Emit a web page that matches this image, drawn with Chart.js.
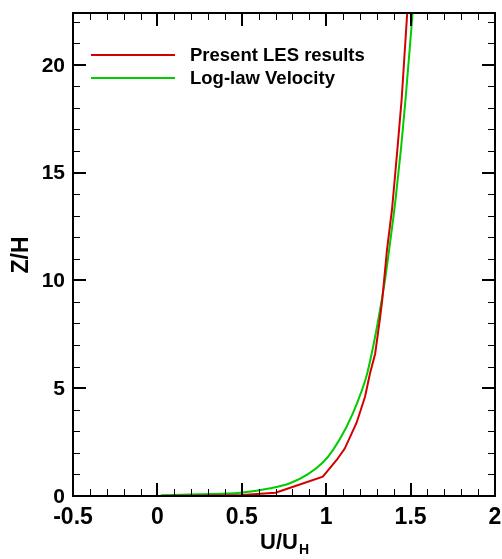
<!DOCTYPE html>
<html>
<head>
<meta charset="utf-8">
<script src="https://cdn.jsdelivr.net/npm/chart.js@4"></script>
<style>
  body { margin: 0; background: #fff; }
  #wrap { width: 502px; height: 559px; }
</style>
</head>
<body>
<div id="wrap"><canvas id="profileChart" width="502" height="559"></canvas></div>
<script>
// velocity profile data: U/UH against Z/H
const lesU = [0, 0.3, 0.5, 0.7, 0.8, 0.98, 1.062, 1.11, 1.18, 1.23, 1.26, 1.29, 1.318, 1.332, 1.36, 1.39, 1.422, 1.447, 1.48];
const lesZ = [0, 0.02, 0.05, 0.15, 0.42, 0.9, 1.67, 2.2, 3.4, 4.6, 5.7, 6.6, 8.2, 9.1, 11.4, 13.3, 16.1, 18.4, 22.4];

const logU = [0.02, 0.25, 0.49, 0.67, 0.785, 0.89, 0.98, 1.04, 1.12, 1.19, 1.24, 1.28, 1.318, 1.348, 1.381, 1.41, 1.443, 1.47, 1.512];
const logZ = [0.03, 0.08, 0.15, 0.36, 0.59, 1.0, 1.55, 2.13, 3.2, 4.45, 5.6, 7.0, 8.6, 10, 11.9, 13.7, 16.1, 18.4, 22.4];

const seriesNames = ['Present LES results', 'Log-law Velocity'];
const seriesColors = ['#d40000', '#00cc00'];

const xTicks = [-0.5, 0, 0.5, 1, 1.5, 2];
const yTicks = [0, 5, 10, 15, 20];
const xMinorStep = 0.1;
const yMinorStep = 1;

const FONT = '"Liberation Sans", Arial, Helvetica, sans-serif';

function toPoints(xs, ys) {
    return xs.map((x, i) => ({ x: x, y: ys[i] }));
}

// frame with inward ticks on all four sides, tick labels, axis titles and legend
const framePlugin = {
    id: 'frame',
    afterDraw(chart) {
        const ctx = chart.ctx;
        const area = chart.chartArea;
        const xs = chart.scales.x;
        const ys = chart.scales.y;
        ctx.save();
        ctx.strokeStyle = '#000';

        // minor ticks
        ctx.lineWidth = 1;
        ctx.beginPath();
        for (let v = xs.min; v <= xs.max + 1e-9; v += xMinorStep) {
            const px = Math.round(xs.getPixelForValue(v)) + 0.5;
            ctx.moveTo(px, area.bottom); ctx.lineTo(px, area.bottom - 7);
            ctx.moveTo(px, area.top); ctx.lineTo(px, area.top + 7);
        }
        for (let v = ys.min; v <= ys.max + 1e-9; v += yMinorStep) {
            const py = Math.round(ys.getPixelForValue(v)) + 0.5;
            ctx.moveTo(area.left, py); ctx.lineTo(area.left + 7, py);
            ctx.moveTo(area.right, py); ctx.lineTo(area.right - 7, py);
        }
        ctx.stroke();

        // major ticks
        ctx.lineWidth = 2;
        ctx.beginPath();
        xTicks.forEach(v => {
            const px = Math.round(xs.getPixelForValue(v));
            ctx.moveTo(px, area.bottom); ctx.lineTo(px, area.bottom - 13);
            ctx.moveTo(px, area.top); ctx.lineTo(px, area.top + 13);
        });
        yTicks.forEach(v => {
            const py = Math.round(ys.getPixelForValue(v));
            ctx.moveTo(area.left, py); ctx.lineTo(area.left + 13, py);
            ctx.moveTo(area.right, py); ctx.lineTo(area.right - 13, py);
        });
        ctx.stroke();

        // box
        ctx.strokeRect(area.left, area.top, area.right - area.left, area.bottom - area.top);

        // tick labels
        ctx.fillStyle = '#000';
        ctx.font = 'bold 23px ' + FONT;
        ctx.textAlign = 'center';
        ctx.textBaseline = 'middle';
        xTicks.forEach(v => {
            ctx.fillText(String(v), xs.getPixelForValue(v), 518);
        });
        ctx.font = 'bold 21px ' + FONT;
        ctx.textAlign = 'right';
        yTicks.forEach(v => {
            ctx.fillText(String(v), area.left - 8, ys.getPixelForValue(v) + 1);
        });

        // axis titles
        ctx.textBaseline = 'alphabetic';
        ctx.textAlign = 'left';
        ctx.font = 'bold 22px ' + FONT;
        const main = 'U/U';
        const wMain = ctx.measureText(main).width;
        ctx.font = 'bold 14px ' + FONT;
        const wSub = ctx.measureText('H').width;
        const x0 = (area.left + area.right) / 2 - (wMain + wSub) / 2;
        ctx.font = 'bold 22px ' + FONT;
        ctx.fillText(main, x0, 549);
        ctx.font = 'bold 14px ' + FONT;
        ctx.fillText('H', x0 + wMain + 1, 554);

        ctx.save();
        ctx.translate(28, 255);
        ctx.rotate(-Math.PI / 2);
        ctx.textAlign = 'center';
        ctx.font = 'bold 23px ' + FONT;
        ctx.fillText('Z/H', 0, 0);
        ctx.restore();

        // legend
        ctx.font = 'bold 18.5px ' + FONT;
        ctx.textBaseline = 'middle';
        ctx.textAlign = 'left';
        seriesNames.forEach((name, i) => {
            const ly = 55 + i * 23;
            ctx.strokeStyle = seriesColors[i];
            ctx.lineWidth = 2;
            ctx.beginPath();
            ctx.moveTo(91, ly);
            ctx.lineTo(175, ly);
            ctx.stroke();
            ctx.fillStyle = '#000';
            ctx.fillText(name, 190, ly + 1);
        });
        ctx.restore();
    }
};

new Chart(document.getElementById('profileChart'), {
    type: 'scatter',
    data: {
        datasets: [
            {
                label: seriesNames[0],
                data: toPoints(lesU, lesZ),
                borderColor: seriesColors[0],
                showLine: true,
                borderWidth: 2,
                pointRadius: 0,
                tension: 0
            },
            {
                label: seriesNames[1],
                data: toPoints(logU, logZ),
                borderColor: seriesColors[1],
                showLine: true,
                borderWidth: 2,
                pointRadius: 0,
                cubicInterpolationMode: 'monotone'
            }
        ]
    },
    options: {
        responsive: false,
        animation: false,
        layout: { padding: { top: 13, right: 7, left: 0, bottom: 0 } },
        plugins: {
            legend: { display: false },
            tooltip: { enabled: false }
        },
        scales: {
            x: {
                type: 'linear',
                min: -0.5,
                max: 2,
                afterFit(scale) { scale.height = 63; },
                grid: { display: false, drawTicks: false },
                border: { display: false },
                ticks: { display: false }
            },
            y: {
                type: 'linear',
                min: 0,
                max: 22.4,
                afterFit(scale) { scale.width = 73; },
                grid: { display: false, drawTicks: false },
                border: { display: false },
                ticks: { display: false }
            }
        }
    },
    plugins: [framePlugin]
});
</script>
</body>
</html>
